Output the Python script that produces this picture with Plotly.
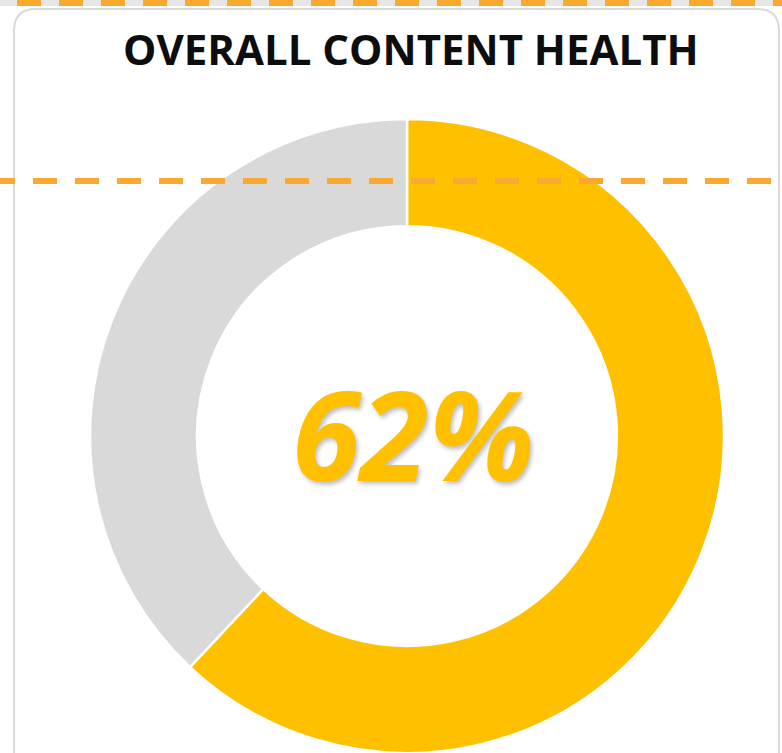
import plotly.graph_objects as go

labels = ["Healthy", "Remaining"]
values = [62, 38]
colors = ["#FFC000", "#D9D9D9"]
title_text = "OVERALL CONTENT HEALTH"
center_text = "62%"

W, H = 782, 753

fig = go.Figure()
fig.add_trace(go.Pie(
    labels=labels, values=values, hole=0.662, sort=False,
    direction="clockwise", rotation=0,
    marker=dict(colors=colors, line=dict(color="white", width=2.5)),
    textinfo="none", hoverinfo="label+percent", showlegend=False,
    domain=dict(x=[(407 - 317) / W, (407 + 317) / W], y=[0, (H - 119) / H]),
))

def px(x):
    return x / W

def py(y):
    return 1 - y / H

# card border with rounded corners
r = 22
x0, y0, x1, y1 = 14, 9, 779, 760
path = (f"M {px(x0)},{py(y1)} L {px(x0)},{py(y0 + r)} "
        f"Q {px(x0)},{py(y0)} {px(x0 + r)},{py(y0)} "
        f"L {px(x1 - r)},{py(y0)} Q {px(x1)},{py(y0)} {px(x1)},{py(y0 + r)} "
        f"L {px(x1)},{py(y1)}")
fig.add_shape(type="path", path=path, xref="paper", yref="paper",
              line=dict(color="#DADADA", width=2), layer="below")

# top gray band and dashed orange lines
fig.add_shape(type="line", xref="paper", yref="paper", x0=0, x1=1, y0=py(3), y1=py(3),
              line=dict(color="#E6E6E6", width=6), layer="above")
for yy, start in [(3, -25), (181, -9)]:
    fig.add_shape(type="line", xref="paper", yref="paper", x0=px(start), x1=1.05,
                  y0=py(yy), y1=py(yy),
                  line=dict(color="#F9A830", width=6, dash="24px,18px"), layer="above")

fig.add_annotation(text=f"<b>{title_text}</b>", x=px(411), y=py(49), xref="paper", yref="paper",
                   showarrow=False, xanchor="center", yanchor="middle",
                   font=dict(family="Open Sans", size=42, color="#0D0D0D"))
fig.add_annotation(text=f"<b><i>{center_text}</i></b>", x=px(413), y=py(432), xref="paper", yref="paper",
                   showarrow=False, xanchor="center", yanchor="middle",
                   font=dict(family="Open Sans", size=124, color="#FFC000",
                             shadow="2px 3px 4px rgba(0,0,0,0.25)"))

fig.update_layout(width=W, height=H, margin=dict(l=0, r=0, t=0, b=0),
                  paper_bgcolor="white", plot_bgcolor="white")
fig.write_html("out.html")
